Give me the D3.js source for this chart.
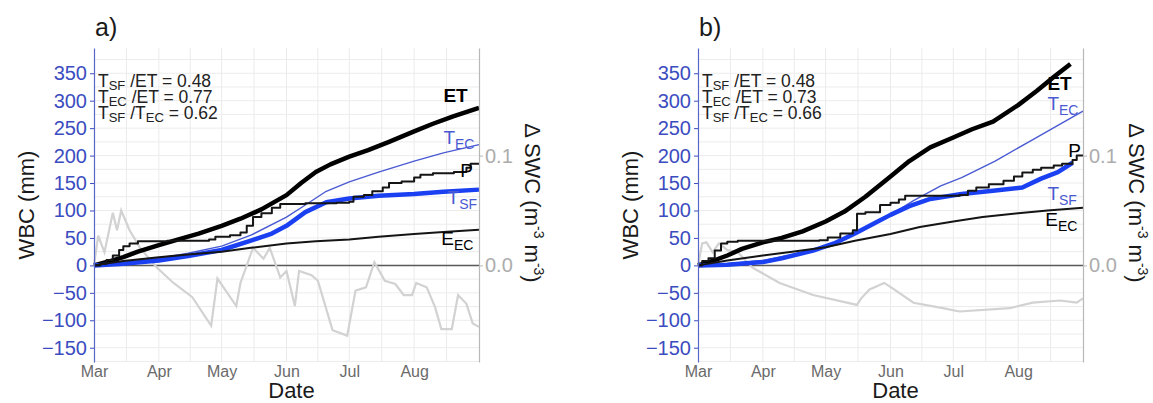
<!DOCTYPE html>
<html lang="en">

<head>
    <meta charset="utf-8">
    <title>Water balance components</title>
    <script type="text/javascript" src="https://d3js.org/d3.v7.min.js"></script>
    <style type="text/css">
        body {
            margin: 0;
            background: #fff;
        }

        text {
            font-family: "Liberation Sans", Arial, sans-serif;
        }
    </style>
</head>

<body>
    <svg width="1153" height="403"></svg>
    <script type="text/javascript">
        //Axis ticks
        const monthTicks = ["03-01", "04-01", "05-01", "06-01", "07-01", "08-01"];
        const monthLabels = ["Mar", "Apr", "May", "Jun", "Jul", "Aug"];
        const wbcTicks = [-150, -100, -50, 0, 50, 100, 150, 200, 250, 300, 350];
        const swcTicks = [0, 0.1];

        //Panel a - cumulative series (mm)
        const etA = [["03-01", 0], ["03-08", 7], ["03-15", 15], ["03-22", 25], ["04-01", 37], ["04-10", 47], ["04-20", 58],
            ["05-01", 72], ["05-10", 85], ["05-20", 102], ["06-01", 128], ["06-08", 150], ["06-15", 170], ["06-22", 184],
            ["07-01", 198], ["07-10", 210], ["07-20", 225], ["08-01", 244], ["08-10", 258], ["08-20", 272], ["09-01", 287]];
        const tecA = [["03-01", 0], ["03-15", 5], ["04-01", 13], ["04-15", 22], ["05-01", 35], ["05-15", 55], ["06-01", 88],
            ["06-10", 110], ["06-20", 135], ["07-01", 152], ["07-15", 170], ["08-01", 190], ["08-15", 205], ["09-01", 220]];
        const tsfA = [["03-01", 0], ["03-15", 3], ["04-01", 9], ["04-15", 17], ["05-01", 28], ["05-15", 45], ["05-25", 58],
            ["06-01", 72], ["06-10", 97], ["06-20", 115], ["07-01", 122], ["07-15", 127], ["08-01", 130], ["08-15", 134], ["09-01", 138]];
        const pA = [["03-01", 0], ["03-04", 3], ["03-07", 10], ["03-10", 18], ["03-13", 28], ["03-15", 35], ["03-18", 40],
            ["03-22", 44], ["04-05", 45], ["04-25", 47], ["04-28", 52], ["05-05", 55], ["05-10", 60], ["05-13", 72],
            ["05-16", 88], ["05-20", 95], ["05-25", 105], ["05-29", 112], ["06-10", 113], ["06-25", 114], ["07-01", 116],
            ["07-03", 125], ["07-08", 128], ["07-12", 135], ["07-17", 142], ["07-20", 150], ["07-26", 153], ["08-01", 160],
            ["08-04", 165], ["08-10", 168], ["08-20", 170], ["08-26", 178], ["08-28", 185], ["09-01", 185]];
        const eecA = [["03-01", 0], ["03-15", 8], ["04-01", 15], ["04-15", 20], ["05-01", 25], ["05-15", 32], ["06-01", 40],
            ["06-15", 44], ["07-01", 47], ["07-15", 52], ["08-01", 57], ["08-15", 61], ["09-01", 65]];
        //Panel a - change in soil water content (m3 m-3)
        const swcA = [["03-01", 0], ["03-03", 0.027], ["03-06", 0.012], ["03-10", 0.048], ["03-12", 0.032], ["03-14", 0.050],
            ["03-18", 0.032], ["03-23", 0.016], ["03-31", -0.002], ["04-08", -0.016], ["04-17", -0.029], ["04-26", -0.055],
            ["04-29", -0.012], ["05-08", -0.037], ["05-10", -0.016], ["05-16", 0.016], ["05-21", 0.006], ["05-24", 0.016],
            ["05-29", -0.011], ["06-01", -0.005], ["06-05", -0.037], ["06-07", -0.005], ["06-13", -0.009], ["06-16", -0.014],
            ["06-23", -0.059], ["06-30", -0.064], ["07-04", -0.023], ["07-09", -0.020], ["07-13", 0.003], ["07-18", -0.014],
            ["07-23", -0.017], ["07-27", -0.027], ["07-31", -0.027], ["08-02", -0.016], ["08-07", -0.020], ["08-11", -0.038],
            ["08-14", -0.058], ["08-19", -0.058], ["08-22", -0.027], ["08-26", -0.035], ["08-29", -0.053], ["09-01", -0.056]];

        //Panel b
        const etB = [["03-01", 0], ["03-08", 8], ["03-15", 18], ["03-22", 30], ["04-01", 42], ["04-10", 50], ["04-20", 62],
            ["05-01", 80], ["05-10", 98], ["05-20", 125], ["06-01", 162], ["06-10", 190], ["06-20", 215], ["07-01", 233],
            ["07-10", 248], ["07-20", 262], ["08-01", 292], ["08-10", 318], ["08-18", 343], ["08-26", 367]];
        const tecB = [["03-01", 0], ["03-15", 3], ["04-01", 9], ["04-15", 19], ["05-01", 35], ["05-10", 48], ["05-20", 66],
            ["06-01", 92], ["06-12", 118], ["06-25", 145], ["07-05", 160], ["07-21", 190], ["08-07", 227], ["08-20", 255], ["09-01", 281]];
        const tsfB = [["03-01", 0], ["03-15", 1], ["04-01", 6], ["04-10", 13], ["04-25", 27], ["05-05", 40], ["05-15", 58],
            ["05-25", 78], ["06-01", 92], ["06-10", 108], ["06-20", 121], ["07-05", 130], ["07-20", 136], ["08-03", 142],
            ["08-12", 158], ["08-20", 170], ["08-27", 187]];
        const pB = [["03-01", 0], ["03-03", 8], ["03-06", 13], ["03-09", 27], ["03-12", 40], ["03-15", 43], ["03-20", 45],
            ["04-28", 46], ["05-02", 51], ["05-08", 58], ["05-14", 64], ["05-16", 94], ["05-20", 97], ["05-27", 110],
            ["06-01", 114], ["06-05", 120], ["06-08", 127], ["07-04", 128], ["07-08", 136], ["07-12", 142], ["07-18", 148],
            ["07-25", 154], ["07-30", 162], ["08-03", 169], ["08-08", 174], ["08-12", 178], ["08-18", 182], ["08-22", 185],
            ["08-27", 192], ["08-29", 200], ["09-01", 200]];
        const eecB = [["03-01", 0], ["03-15", 9], ["04-01", 18], ["04-15", 25], ["05-01", 33], ["05-15", 45], ["06-01", 57],
            ["06-15", 70], ["07-01", 80], ["07-15", 88], ["08-01", 95], ["08-15", 100], ["09-01", 105]];
        const swcB = [["03-01", 0], ["03-03", 0.020], ["03-05", 0.021], ["03-08", 0.012], ["03-11", 0.020], ["03-15", 0.014],
            ["03-20", 0.012], ["03-27", -0.002], ["04-09", -0.016], ["04-25", -0.027], ["05-16", -0.036], ["05-18", -0.030],
            ["05-22", -0.022], ["05-29", -0.016], ["06-02", -0.021], ["06-12", -0.034], ["06-26", -0.039], ["07-04", -0.042],
            ["07-28", -0.039], ["08-08", -0.034], ["08-21", -0.032], ["08-29", -0.034], ["09-01", -0.030]];

        //Ratio annotations: [text, subscript?]
        const ratiosA = [
            [["T"], ["SF", 1], [" /ET = 0.48"]],
            [["T"], ["EC", 1], [" /ET = 0.77"]],
            [["T"], ["SF", 1], [" /T"], ["EC", 1], [" = 0.62"]]];
        const ratiosB = [
            [["T"], ["SF", 1], [" /ET = 0.48"]],
            [["T"], ["EC", 1], [" /ET = 0.73"]],
            [["T"], ["SF", 1], [" /T"], ["EC", 1], [" = 0.66"]]];

        //Constants
        const svg = d3.select("svg");
        const plotTop = 48, plotBottom = 362;
        const wbcDomain = [-176, 396];
        const swcFactor = 2000; //0.1 m3 m-3 <-> 200 mm on the plot
        const blue = "#3b4cc0";
        const parseDay = s => new Date(Date.UTC(2019, +s.slice(0, 2) - 1, +s.slice(3)));

        const styles = {
            et: { color: "#000", width: 4.5 },
            tec: { color: "#4a5ad2", width: 1.4 },
            tsf: { color: "#1a40f2", width: 4.5 },
            p: { color: "#151515", width: 2, step: true },
            eec: { color: "#151515", width: 2 }
        };

        const panels = [
            {
                tag: "a)", x0: 94, x1: 479, ratios: ratiosA, swc: swcA,
                series: { et: etA, tec: tecA, tsf: tsfA, p: pA, eec: eecA },
                labels: [
                    { parts: [["ET"]], at: ["08-15", 297], color: "#000", bold: true },
                    { parts: [["T"], ["EC", 1]], at: ["08-15", 221], color: "#4a5ad2" },
                    { parts: [["P"]], at: ["08-23", 161], color: "#000" },
                    { parts: [["T"], ["SF", 1]], at: ["08-17", 112], color: "#4a5ad2" },
                    { parts: [["E"], ["EC", 1]], at: ["08-14", 37], color: "#000" }]
            },
            {
                tag: "b)", x0: 698, x1: 1083, ratios: ratiosB, swc: swcB,
                series: { et: etB, tec: tecB, tsf: tsfB, p: pB, eec: eecB },
                labels: [
                    { parts: [["ET"]], at: ["08-15", 319], color: "#000", bold: true },
                    { parts: [["T"], ["EC", 1]], at: ["08-15", 283], color: "#4a5ad2" },
                    { parts: [["P"]], at: ["08-25", 197], color: "#000" },
                    { parts: [["T"], ["SF", 1]], at: ["08-15", 119], color: "#4a5ad2" },
                    { parts: [["E"], ["EC", 1]], at: ["08-14", 72], color: "#000" }]
            }];

        //Write text with subscripts
        function addParts(textSel, parts, subSize, drop) {
            let lowered = false;
            parts.forEach(p => {
                const t = textSel.append("tspan").text(p[0]);
                if (p[1]) {
                    t.attr("font-size", subSize).attr("dy", drop);
                    lowered = true;
                } else if (lowered) {
                    t.attr("dy", -drop);
                    lowered = false;
                }
            });
        }

        panels.forEach(pan => {
            const xScale = d3.scaleUtc()
                .domain([parseDay("03-01"), parseDay("09-01")])
                .range([pan.x0, pan.x1]);
            const yScale = d3.scaleLinear().domain(wbcDomain).range([plotBottom, plotTop]);
            const ySwc = d3.scaleLinear()
                .domain(wbcDomain.map(v => v / swcFactor))
                .range([plotBottom, plotTop]);
            const g = svg.append("g");

            //Grid: months plus mid-month minor lines
            const edges = monthTicks.concat(["09-01"]).map(d => xScale(parseDay(d)));
            const vLines = edges.slice(1, -1).concat(edges.slice(0, -1).map((e, i) => (e + edges[i + 1]) / 2));
            g.selectAll(".vgrid").data(vLines).enter().append("line")
                .attr("x1", d => d).attr("x2", d => d)
                .attr("y1", plotTop).attr("y2", plotBottom)
                .attr("stroke", "#ebebeb").attr("stroke-width", 1);
            g.selectAll(".hgrid").data(d3.range(-175, 376, 25)).enter().append("line")
                .attr("x1", pan.x0).attr("x2", pan.x1)
                .attr("y1", d => yScale(d)).attr("y2", d => yScale(d))
                .attr("stroke", "#ececec").attr("stroke-width", 1);

            //Zero line
            g.append("line")
                .attr("x1", pan.x0).attr("x2", pan.x1)
                .attr("y1", yScale(0)).attr("y2", yScale(0))
                .attr("stroke", "#5a5a5a").attr("stroke-width", 1.5);

            //Soil water content change
            const swcLine = d3.line()
                .x(d => xScale(parseDay(d[0])))
                .y(d => ySwc(d[1]));
            g.append("path").attr("d", swcLine(pan.swc))
                .attr("fill", "none").attr("stroke", "#d2d2d2").attr("stroke-width", 2.2);

            //Cumulative series
            ["et", "tec", "tsf", "p", "eec"].forEach(k => {
                const st = styles[k];
                const line = d3.line()
                    .x(d => xScale(parseDay(d[0])))
                    .y(d => yScale(d[1]))
                    .curve(st.step ? d3.curveStepAfter : d3.curveLinear);
                g.append("path").attr("d", line(pan.series[k]))
                    .attr("fill", "none").attr("stroke", st.color)
                    .attr("stroke-width", st.width)
                    .attr("stroke-linejoin", "round");
            });

            //Left axis (WBC)
            g.append("g")
                .attr("transform", "translate(" + pan.x0 + ",0)")
                .call(d3.axisLeft(yScale).tickValues(wbcTicks).tickSize(4).tickSizeOuter(0).tickPadding(3))
                .call(a => a.attr("font-family", null))
                .call(a => a.select(".domain").attr("stroke", "#5866c8").attr("stroke-width", 1.2))
                .call(a => a.selectAll(".tick line").attr("stroke", blue))
                .call(a => a.selectAll(".tick text").attr("fill", blue).attr("font-size", 20));

            //Right axis (SWC)
            g.append("g")
                .attr("transform", "translate(" + pan.x1 + ",0)")
                .call(d3.axisRight(ySwc).tickValues(swcTicks).tickFormat(d3.format(".1f"))
                    .tickSize(4).tickSizeOuter(0).tickPadding(2))
                .call(a => a.attr("font-family", null))
                .call(a => a.select(".domain").attr("stroke", "#b8b8b8").attr("stroke-width", 1.2))
                .call(a => a.selectAll(".tick line").attr("stroke", "#b8b8b8"))
                .call(a => a.selectAll(".tick text").attr("fill", "#acacac").attr("font-size", 20));

            //Bottom axis (months)
            g.append("g")
                .attr("transform", "translate(0," + plotBottom + ")")
                .call(d3.axisBottom(xScale).tickValues(monthTicks.map(parseDay))
                    .tickFormat((d, i) => monthLabels[i]).tickSize(0).tickPadding(4))
                .call(a => a.attr("font-family", null))
                .call(a => a.select(".domain").remove())
                .call(a => a.selectAll(".tick text").attr("fill", "#6a6a6a").attr("font-size", 16));

            //Titles
            const mid = (plotTop + plotBottom) / 2;
            g.append("text")
                .attr("transform", "translate(" + (pan.x0 - 60) + "," + mid + ") rotate(-90)")
                .attr("text-anchor", "middle").attr("font-size", 22).attr("fill", "#1a1a1a")
                .text("WBC (mm)");
            const rt = g.append("text")
                .attr("transform", "translate(" + (pan.x1 + 46) + "," + (mid - 2) + ") rotate(90)")
                .attr("text-anchor", "middle").attr("font-size", 22).attr("fill", "#1a1a1a");
            rt.append("tspan").text("\u0394 SWC (m");
            rt.append("tspan").text("-3").attr("font-size", 14).attr("dy", -9);
            rt.append("tspan").text(" m").attr("dy", 9);
            rt.append("tspan").text("-3").attr("font-size", 14).attr("dy", -9);
            rt.append("tspan").text(")").attr("dy", 9);

            g.append("text")
                .attr("x", (pan.x0 + pan.x1) / 2 + 5).attr("y", 398)
                .attr("text-anchor", "middle").attr("font-size", 22).attr("fill", "#1a1a1a")
                .text("Date");
            g.append("text")
                .attr("x", pan.x0 + 1).attr("y", 36)
                .attr("font-size", 25).attr("fill", "#1a1a1a")
                .text(pan.tag);

            //Ratio annotation
            pan.ratios.forEach((r, i) => {
                const t = g.append("text")
                    .attr("x", pan.x0 + 4).attr("y", 87 + i * 16)
                    .attr("font-size", 17.5).attr("fill", "#222");
                addParts(t, r, 13, 3);
            });

            //Series labels
            pan.labels.forEach(l => {
                const t = g.append("text")
                    .attr("x", xScale(parseDay(l.at[0])))
                    .attr("y", yScale(l.at[1]))
                    .attr("font-size", 19).attr("fill", l.color)
                    .attr("font-weight", l.bold ? "bold" : null);
                addParts(t, l.parts, 14, 5);
            });
        });
    </script>
</body>

</html>
